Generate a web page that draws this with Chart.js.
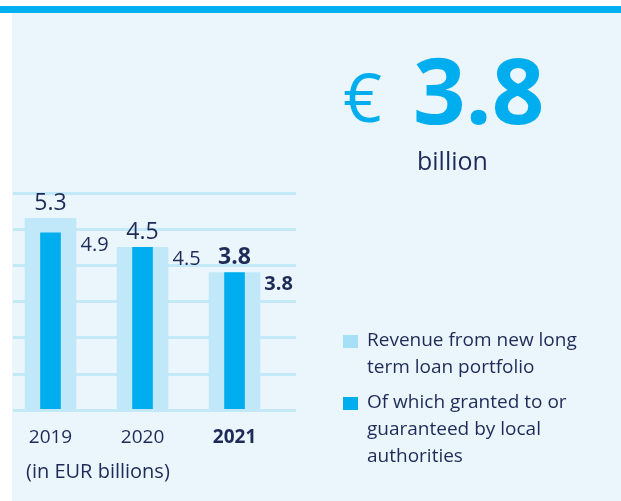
<!DOCTYPE html>
<html>
<head>
<meta charset="utf-8">
<script src="https://cdn.jsdelivr.net/npm/chart.js@4.4.1/dist/chart.umd.min.js"></script>
<style>
  html, body { margin: 0; padding: 0; background: #fff; }
  #wrap { position: relative; width: 621px; height: 501px; overflow: hidden; }
  #topbar { position: absolute; left: 0; top: 6px; width: 621px; height: 7px; background: #00b0f0; }
  #panel { position: absolute; left: 12px; top: 13px; right: 0; bottom: 0; background: #ebf6fc; }
  canvas { position: absolute; left: 0; top: 0; }
</style>
</head>
<body>
<div id="wrap">
  <div id="topbar"></div>
  <div id="panel"></div>
  <canvas id="loanChart" width="621" height="501"></canvas>
</div>
<script>
// data
const years = ["2019", "2020", "2021"];
const revenue = [5.3, 4.5, 3.8];
const localAuthorities = [4.9, 4.5, 3.8];
const yTicks = [0, 1, 2, 3, 4, 5, 6];
const seriesNames = [
  ["Revenue from new long", "term loan portfolio"],
  ["Of which granted to or", "guaranteed by local", "authorities"]
];
const headline = { currency: "€", value: "3.8", unit: "billion" };
const unitNote = "(in EUR billions)";

const FONT = "'Open Sans', 'Noto Sans', sans-serif";
const NAVY = "#1e2b57";
const LIGHT = "#c0e8f8";
const DARK = "#00aeef";

(function () {
  const el = document.getElementById("loanChart");
  const ctx = el.getContext("2d");

  // labels, legend and headline drawn on the canvas
  const extras = {
    id: "extras",
    afterDatasetsDraw(chart) {
      const c = chart.ctx;
      c.save();
      c.fillStyle = NAVY;
      c.textBaseline = "middle";
      c.textAlign = "center";

      chart.getDatasetMeta(0).data.forEach((bar, i) => {
        const bold = i === years.length - 1;
        c.font = (bold ? "bold " : "") + "23px " + FONT;
        c.fillText(revenue[i].toFixed(1), bar.x, bar.y - 15);
      });
      chart.getDatasetMeta(1).data.forEach((bar, i) => {
        const bold = i === years.length - 1;
        c.font = (bold ? "bold " : "") + "20px " + FONT;
        c.fillText(localAuthorities[i].toFixed(1), bar.x + 44, bar.y + 12);
      });

      // headline
      c.textAlign = "left";
      c.textBaseline = "alphabetic";
      c.fillStyle = DARK;
      c.font = "68px " + FONT;
      c.fillText(headline.currency, 343, 122);
      c.font = "bold 92px " + FONT;
      c.fillText(headline.value, 413, 124);
      c.fillStyle = NAVY;
      c.font = "25px " + FONT;
      c.fillText(headline.unit, 417, 170);

      c.font = "20px " + FONT;
      c.fillText(unitNote, 26, 478);

      // legend
      const tops = [341, 403];
      chart.data.datasets.forEach((ds, k) => {
        c.fillStyle = ds.legendColor;
        c.fillRect(343, tops[k] - 6, 15, 13);
        c.fillStyle = NAVY;
        c.textBaseline = "middle";
        c.font = "19px " + FONT;
        ds.label.forEach((line, j) => c.fillText(line, 367, tops[k] + j * 27));
      });
      c.restore();
    }
  };

  const chart = new Chart(ctx, {
    type: "bar",
    data: {
      datasets: [
        {
          label: seriesNames[0],
          data: revenue.map((v, i) => ({ x: i, y: v })),
          backgroundColor: LIGHT,
          legendColor: "#a6e0f7",
          barThickness: 51,
          grouped: false,
          order: 2
        },
        {
          label: seriesNames[1],
          data: localAuthorities.map((v, i) => ({ x: i, y: v })),
          backgroundColor: DARK,
          legendColor: DARK,
          barThickness: 20,
          grouped: false,
          order: 1
        }
      ]
    },
    options: {
      responsive: false,
      animation: false,
      layout: { padding: { left: 13, right: 325, top: 193, bottom: 36 } },
      plugins: { legend: { display: false }, tooltip: { enabled: false } },
      scales: {
        x: {
          type: "linear",
          offset: false,
          min: -0.4076,
          max: 2.668,
          afterBuildTicks: s => { s.ticks = years.map((_, i) => ({ value: i })); },
          grid: { display: false, drawTicks: false },
          border: { display: false },
          ticks: {
            padding: 16,
            color: NAVY,
            callback: v => years[v],
            font: c => ({ family: FONT, size: 19, weight: c.index === years.length - 1 ? "bold" : "normal" })
          }
        },
        y: {
          min: 0,
          max: 6,
          afterBuildTicks: s => { s.ticks = yTicks.map(v => ({ value: v })); },
          ticks: { display: false },
          border: { display: false },
          grid: { color: "#c3e9f8", lineWidth: 3, drawTicks: false }
        }
      }
    },
    plugins: [extras]
  });

  window.loanChart = chart;
})();
</script>
</body>
</html>
